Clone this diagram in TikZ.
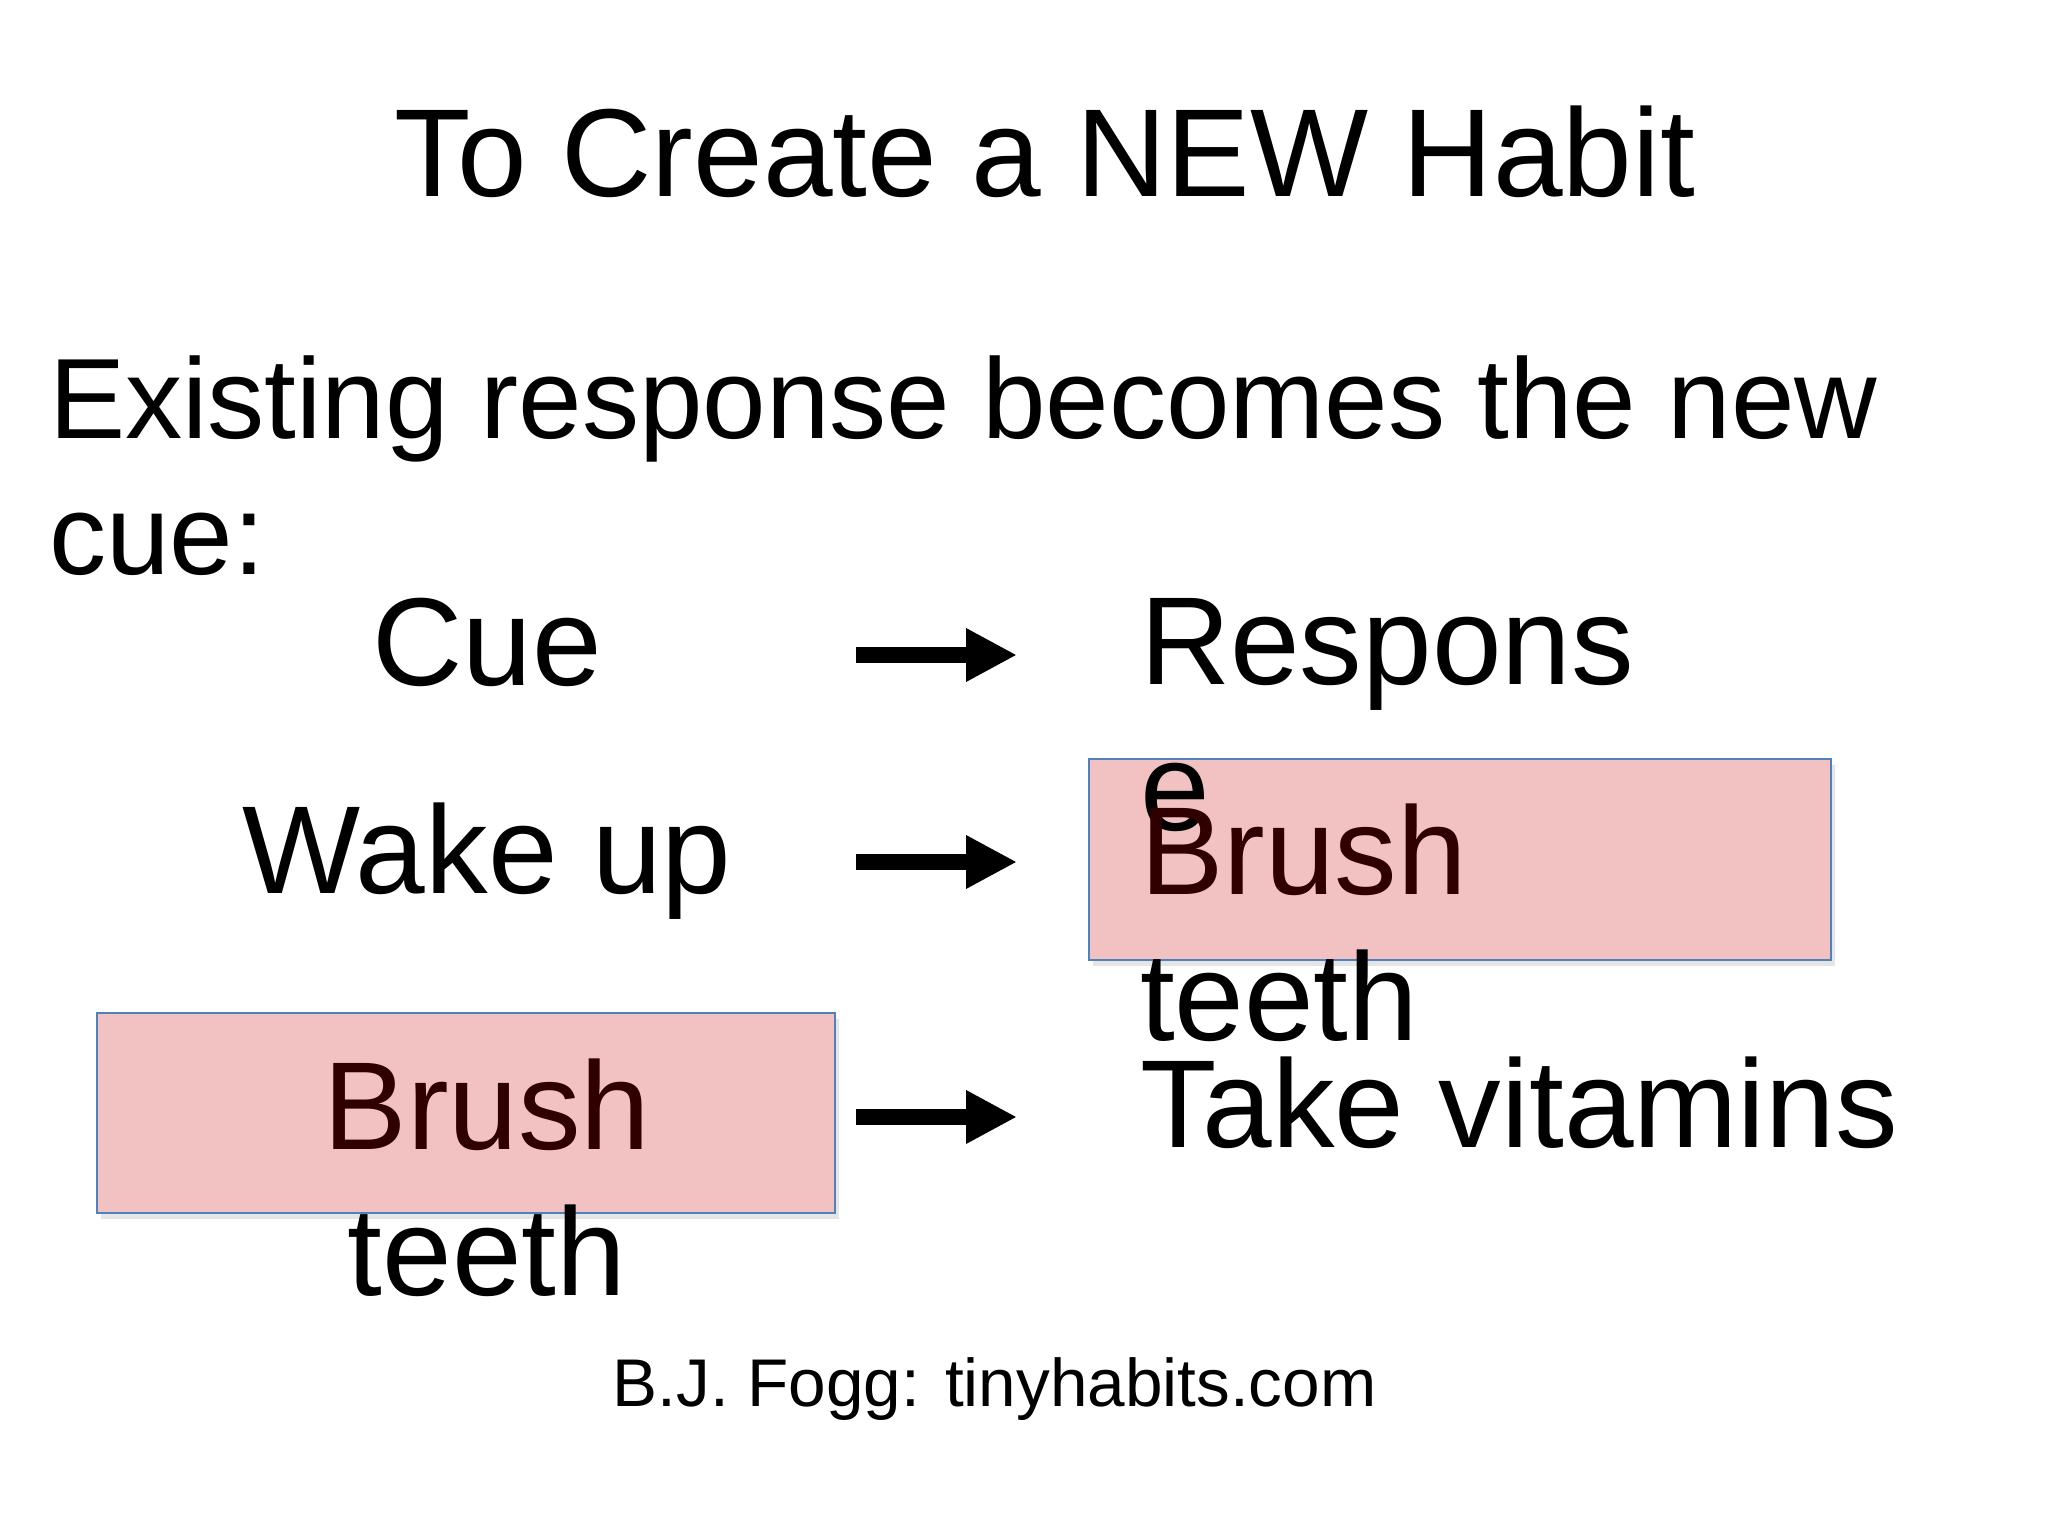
\documentclass[tikz,border=0pt]{standalone}
\usepackage{fontspec}
\setmainfont{Liberation Sans}
\usepackage{tikz}
\usetikzlibrary{arrows.meta}
\usetikzlibrary{shadows}
\usetikzlibrary{positioning, calc}

\definecolor{boxpink}{HTML}{F2C1C1}
\definecolor{boxblue}{HTML}{4F81BD}
\definecolor{brushred}{HTML}{300000}

\newcommand{\titlesize}{\fontsize{35.6pt}{42pt}\selectfont}
\newcommand{\introsize}{\fontsize{32.5pt}{38.7pt}\selectfont}
\newcommand{\rowsize}{\fontsize{35.6pt}{41.5pt}\selectfont}
\newcommand{\footsize}{\fontsize{19.2pt}{23pt}\selectfont}

\begin{document}
\begin{tikzpicture}

\pgfmathsetmacro{\XL}{4.87}
\pgfmathsetmacro{\XR}{11.40}
\pgfmathsetmacro{\AS}{8.56}
\pgfmathsetmacro{\AE}{10.17}

\tikzset{
  txt/.style={inner sep=0pt, outer sep=0pt},
  rowtxt/.style={txt, font=\rowsize},
  habitbox/.style={draw=boxblue, fill=boxpink, line width=0.6pt, inner sep=0pt,
    drop shadow={shadow xshift=0.4mm, shadow yshift=-0.6mm, opacity=0.2}},
  fatarrow/.style={line width=1.6mm, -{Triangle[length=5.1mm, width=5mm]}},
}

\useasboundingbox [fill=white] (0, 0) rectangle (20.48, -15.36);

\node [habitbox, minimum width=7.42cm, minimum height=2.01cm] (box1) at (14.60, -8.595) {};
\node [habitbox, minimum width=7.38cm, minimum height=2.00cm] (box2) at (4.66, -11.13) {};

\node [txt, font=\titlesize, anchor=base] (title) at (10.45, -1.97) {To Create a NEW Habit};
% multi-line nodes sit on the baseline of their last line
\node [txt, font=\introsize, anchor=base west, align=left] (intro) at (0.49, -5.75)
  {Existing response becomes the new\\cue:};

\node [rowtxt, anchor=base] (cue) at (\XL, -6.86) {Cue};
\node [rowtxt, anchor=base west, align=left] (resp) at (\XR, -8.30) {Respons\\e};

\node [rowtxt, anchor=base] (wake) at (\XL, -8.93) {Wake up};
\node [rowtxt, anchor=base west, align=left] (brush1) at (\XR, -10.40)
  {\textcolor{brushred}{Brush}\\teeth};

\node [rowtxt, anchor=base, align=center] (brush2) at (\XL, -12.95)
  {\textcolor{brushred}{Brush}\\teeth};
\node [rowtxt, anchor=base west] (vit) at (\XR, -11.47) {Take vitamins};

\node [txt, font=\footsize, anchor=base] (foot) at (9.945, -14.06) {B.J. Fogg: tinyhabits.com};

\coordinate (a1s) at (\AS, -6.55);
\coordinate (a1e) at (\AE, -6.55);
\coordinate (a2s) at (\AS, -8.62);
\coordinate (a2e) at (\AE, -8.62);
\coordinate (a3s) at (\AS, -11.17);
\coordinate (a3e) at (\AE, -11.17);

\draw [fatarrow] (a1s) -- (a1e);
\draw [fatarrow] (a2s) -- (a2e);
\draw [fatarrow] (a3s) -- (a3e);

\end{tikzpicture}
\end{document}
